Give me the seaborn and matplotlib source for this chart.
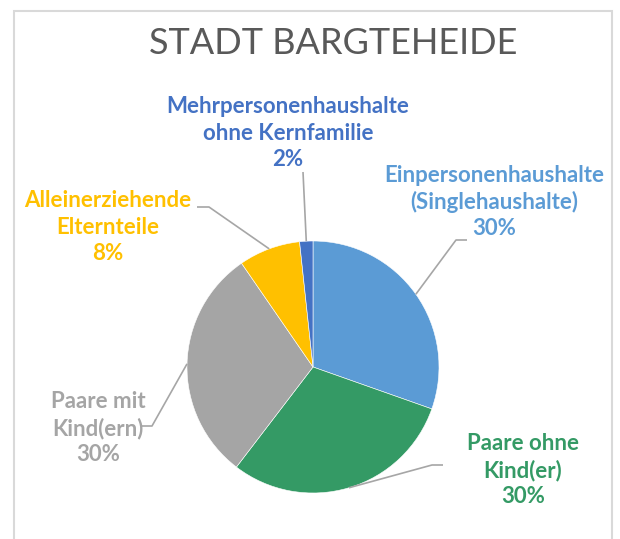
import matplotlib.pyplot as plt
import matplotlib.patches as mpatches
import numpy as np
import seaborn as sns

sns.set_style('white')
plt.rcParams['font.family'] = ['Lato', 'DejaVu Sans']

# Daten
title = 'STADT BARGTEHEIDE'
categories = ['Einpersonenhaushalte\n(Singlehaushalte)',
              'Paare ohne\nKind(er)',
              'Paare mit\nKind(ern)',
              'Alleinerziehende\nElternteile',
              'Mehrpersonenhaushalte\nohne Kernfamilie']
shares = [30.4, 30.0, 30.0, 7.9, 1.7]
colors = ['#5B9BD5', '#349A65', '#A5A5A5', '#FFC000', '#4472C4']

W, H = 620, 539
CX, CY, R = 313, 367, 126


def px(x, y):
    # Pixel (von oben links) -> Datenkoordinaten der Achse
    return (x - CX) / R, (CY - y) / R


fig = plt.figure(figsize=(W / 100, H / 100), dpi=100)
ax = fig.add_axes([0, 0, 1, 1])

wedges, _ = ax.pie(shares, colors=colors, startangle=90, counterclock=False,
                   radius=1, wedgeprops={'linewidth': 0.4, 'edgecolor': 'white'})
ax.set_xlim(-CX / R, (W - CX) / R)
ax.set_ylim(-(H - CY) / R, CY / R)
ax.set_aspect('auto')
ax.axis('off')

# Rahmen des Diagramms (unten offen, geht über den Bildrand hinaus)
fig.patches.append(mpatches.Rectangle((14 / W, -20 / H), 598 / W, (H - 11 + 20) / H,
                                      transform=fig.transFigure, fill=False,
                                      edgecolor='#D9D9D9', linewidth=1.5))

ax.text(*px(333, 44), title, ha='center', va='center', fontsize=26,
        color='#595959', fontweight='normal')

# Beschriftung: Mittelpunkt des Textblocks, Knickpunkt und Ende der Linie (Pixel)
label_pos = [(494, 202), (523, 470), (98, 428), (108, 227), (288, 133)]
elbows = [[(467, 240), (456, 240)],
          [(443, 465), (432, 465)],
          [(140, 426), (152, 426)],
          [(197, 207), (209, 207)],
          [(303, 172)]]

for w, cat, val, col, pos, elb in zip(wedges, categories, shares, colors,
                                      label_pos, elbows):
    ax.text(*px(*pos), f'{cat}\n{val:.0f}%', ha='center', va='center',
            fontsize=16, fontweight='bold', color=col, linespacing=1.3)
    mid = np.deg2rad((w.theta1 + w.theta2) / 2)
    pts = [px(*p) for p in elb] + [(np.cos(mid), np.sin(mid))]
    xs, ys = zip(*pts)
    ax.plot(xs, ys, color='#A6A6A6', linewidth=1.2, solid_capstyle='butt')

fig.savefig('out.png', dpi=100)
